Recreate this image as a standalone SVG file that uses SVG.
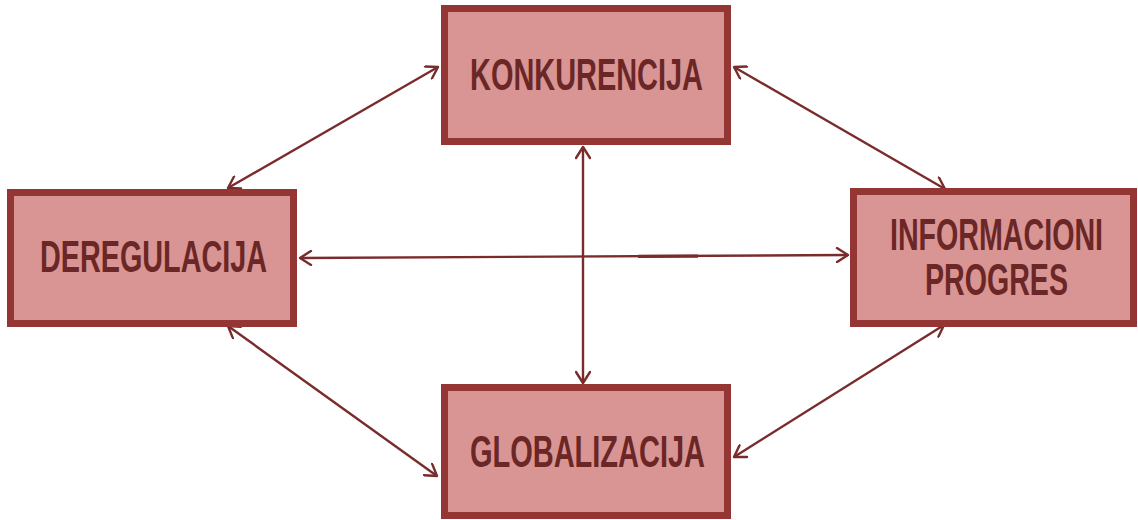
<svg xmlns="http://www.w3.org/2000/svg" width="1138" height="520" viewBox="0 0 1138 520">
<defs>
<style>
.box{fill:#D99594;stroke:#943634;stroke-width:7}
.lbl{font-family:"Liberation Sans",Arial,sans-serif;font-weight:bold;font-size:29px;fill:#6B2626;text-anchor:start}
.con{stroke:#7A2C2C;stroke-width:2.4;fill:none;marker-start:url(#ah);marker-end:url(#ah)}
</style>
<marker id="ah" viewBox="-14 -8 16 16" refX="0" refY="0" markerWidth="16" markerHeight="16" markerUnits="userSpaceOnUse" orient="auto-start-reverse">
<path d="M-11,-7 L0,0 L-11,7" fill="none" stroke="#7A2C2C" stroke-width="2.4" stroke-linecap="round" stroke-linejoin="round"/>
</marker>
</defs>
<rect width="1138" height="520" fill="#fff"/>
<g id="connectors">
<line class="con" x1="228" y1="188" x2="438" y2="67"/>
<line class="con" x1="734" y1="67" x2="945" y2="189"/>
<line class="con" x1="228" y1="326" x2="437" y2="476"/>
<line class="con" x1="944" y1="325" x2="734" y2="457"/>
<line class="con" x1="583" y1="147" x2="583" y2="383"/>
<line class="con" x1="300" y1="258" x2="848" y2="255"/>
<line x1="638" y1="256.4" x2="698" y2="256.1" stroke="#7A2C2C" stroke-width="3.2"/>
</g>
<g id="konkurencija">
<rect class="box" x="444.5" y="8.5" width="283" height="133"/>
<text class="lbl" transform="translate(470,90) scale(1,1.55)" textLength="233" lengthAdjust="spacingAndGlyphs">KONKURENCIJA</text>
</g>
<g id="deregulacija">
<rect class="box" x="10.5" y="192.5" width="283" height="131"/>
<text class="lbl" transform="translate(40,272) scale(1,1.55)" textLength="227" lengthAdjust="spacingAndGlyphs">DEREGULACIJA</text>
</g>
<g id="informacioni">
<rect class="box" x="853.5" y="191.5" width="280" height="132"/>
<text class="lbl" transform="translate(890,250) scale(1,1.5)" textLength="213" lengthAdjust="spacingAndGlyphs">INFORMACIONI</text>
<text class="lbl" transform="translate(925,295) scale(1,1.5)" textLength="143" lengthAdjust="spacingAndGlyphs">PROGRES</text>
</g>
<g id="globalizacija">
<rect class="box" x="444.5" y="387.5" width="283" height="128"/>
<text class="lbl" transform="translate(470,467) scale(1,1.55)" textLength="235" lengthAdjust="spacingAndGlyphs">GLOBALIZACIJA</text>
</g>
</svg>
